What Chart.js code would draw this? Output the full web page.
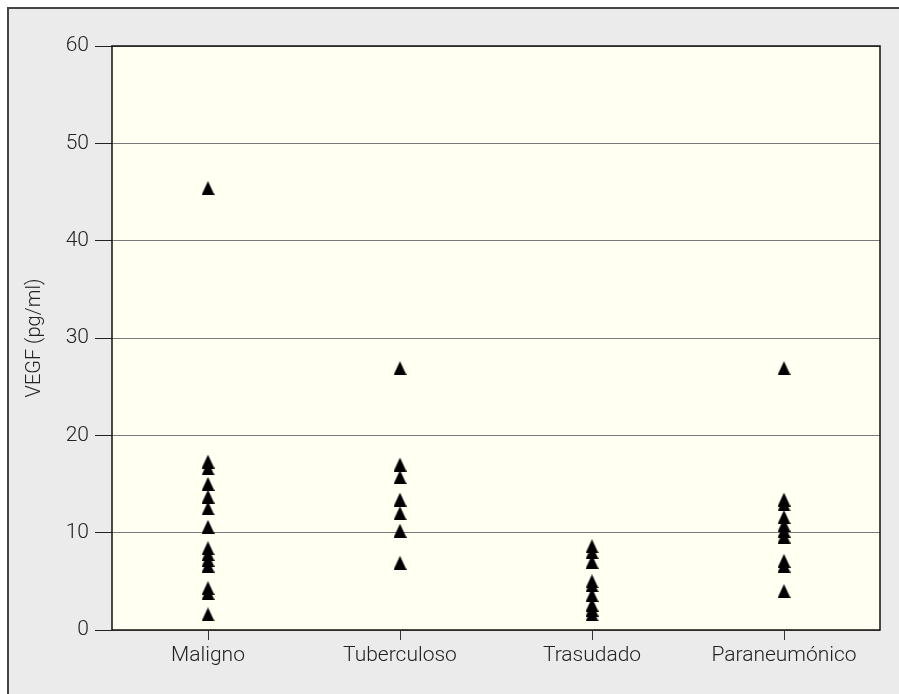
<!DOCTYPE html>
<html>
<head>
<meta charset="utf-8">
<script src="https://cdn.jsdelivr.net/npm/chart.js@4.4.0/dist/chart.umd.min.js"></script>
<style>
  html, body { margin: 0; padding: 0; background: #ffffff; }
  #wrap { width: 899px; height: 694px; }
</style>
</head>
<body>
<div id="wrap"><canvas id="vegfChart" width="899" height="694"></canvas></div>
<script>
// -------------------- DATA --------------------
const categories = ["Maligno", "Tuberculoso", "Trasudado", "Paraneumónico"];
const maligno = [45.4, 17.3, 16.6, 15.0, 13.7, 12.5, 10.6, 8.4, 7.8, 7.2, 6.6, 4.3, 3.8, 1.6];
const tuberculoso = [26.9, 17.0, 15.7, 13.4, 12.0, 10.2, 6.9];
const trasudado = [8.6, 8.0, 7.0, 5.0, 4.6, 3.6, 2.6, 2.1, 1.6];
const paraneumonico = [26.9, 13.4, 12.9, 11.6, 10.8, 10.2, 9.6, 7.1, 6.6, 4.0];
const yTicks = [0, 10, 20, 30, 40, 50, 60];

const groups = [maligno, tuberculoso, trasudado, paraneumonico];
const points = [];
groups.forEach((vals, i) => {
  vals.forEach(v => points.push({ x: categories[i], y: v }));
});

// tall black triangle marker
const tri = document.createElement("canvas");
tri.width = 13;
tri.height = 14;
const tctx = tri.getContext("2d");
tctx.fillStyle = "#000000";
tctx.beginPath();
tctx.moveTo(6.5, 0);
tctx.lineTo(13, 14);
tctx.lineTo(0, 14);
tctx.closePath();
tctx.fill();

// gray frame behind the chart
const framePlugin = {
  id: "frame",
  beforeDraw(chart) {
    const c = chart.ctx;
    c.save();
    c.fillStyle = "#ffffff";
    c.fillRect(0, 0, chart.width, chart.height);
    c.fillStyle = "#ebebeb";
    c.fillRect(7, 7, chart.width - 7, chart.height - 7);
    c.strokeStyle = "#444444";
    c.lineWidth = 2;
    c.beginPath();
    c.moveTo(8, chart.height);
    c.lineTo(8, 8);
    c.lineTo(chart.width, 8);
    c.stroke();
    const a = chart.chartArea;
    c.fillStyle = "#fffff2";
    c.fillRect(a.left, a.top, a.right - a.left, a.bottom - a.top);
    c.restore();
  },
  afterDraw(chart) {
    const c = chart.ctx;
    const a = chart.chartArea;
    c.save();
    c.strokeStyle = "#111111";
    c.lineWidth = 1.5;
    c.strokeRect(a.left, a.top, a.right - a.left, a.bottom - a.top);
    c.restore();
  }
};

Chart.defaults.font.family = "Roboto, 'Liberation Sans', Arial, sans-serif";
Chart.defaults.font.weight = 300;
Chart.defaults.color = "#222222";

new Chart(document.getElementById("vegfChart").getContext("2d"), {
  type: "scatter",
  data: {
    datasets: [{
      label: "VEGF",
      data: points,
      pointStyle: tri,
      pointRadius: 7,
      pointHoverRadius: 7
    }]
  },
  options: {
    responsive: false,
    animation: false,
    layout: { padding: { left: 0, top: 46, right: 19, bottom: 0 } },
    plugins: {
      legend: { display: false },
      tooltip: { enabled: false }
    },
    scales: {
      x: {
        type: "category",
        labels: categories,
        offset: true,
        grid: {
          drawOnChartArea: false,
          drawTicks: true,
          tickLength: 10,
          tickColor: "#333333",
          offset: false
        },
        border: { display: false },
        ticks: { font: { size: 21, weight: 300 }, padding: 3 },
        afterFit(scale) { scale.height = 64; }
      },
      y: {
        min: 0,
        max: 60,
        afterBuildTicks(scale) { scale.ticks = yTicks.map(v => ({ value: v })); },
        grid: {
          color: "#7a7a7a",
          lineWidth: 1,
          drawTicks: true,
          tickLength: 17,
          tickColor: "#222222"
        },
        border: { display: false },
        ticks: { font: { size: 21, weight: 300 }, padding: 6 },
        title: {
          display: true,
          text: "VEGF (pg/ml)",
          font: { size: 20, weight: 300 },
          color: "#222222",
          padding: { top: 23, bottom: 0 }
        },
        afterFit(scale) { scale.width = 112; }
      }
    }
  },
  plugins: [framePlugin]
});
</script>
</body>
</html>
